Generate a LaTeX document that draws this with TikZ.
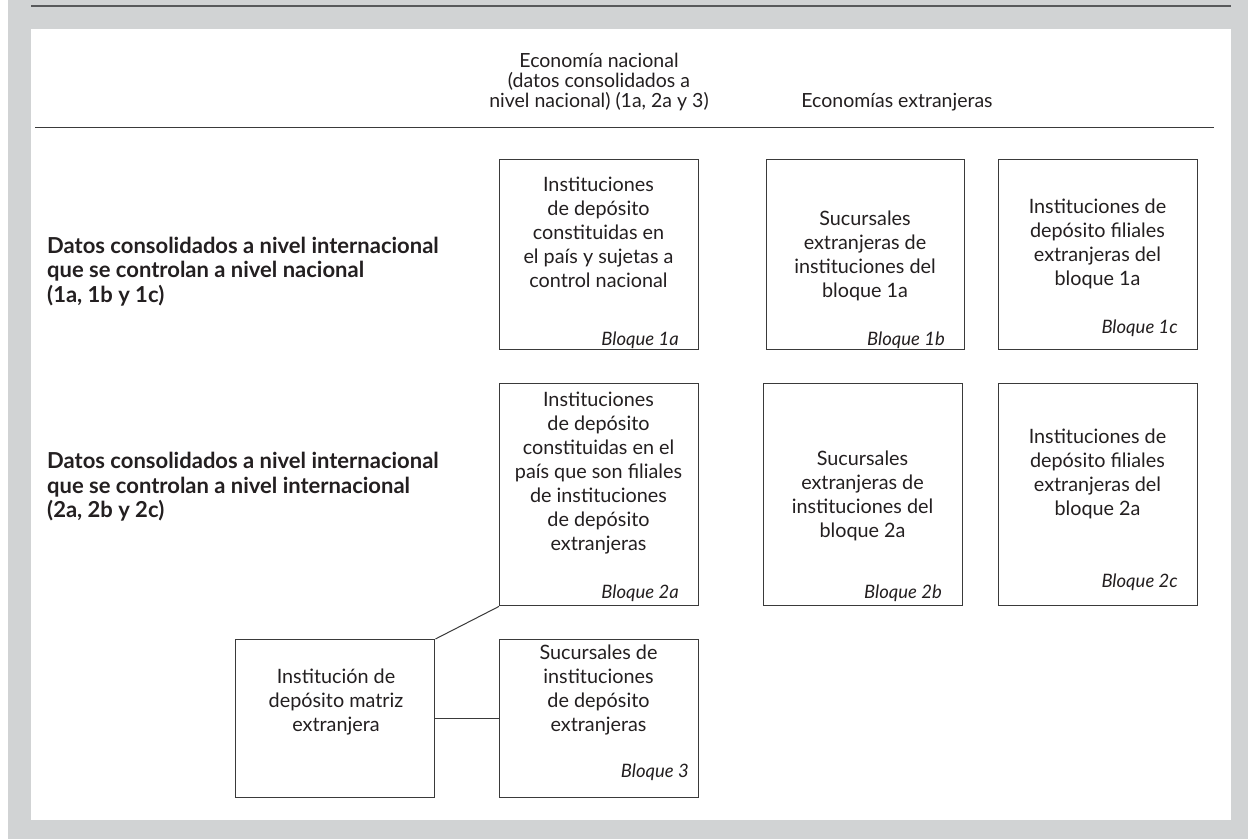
\documentclass[tikz,border=0pt]{standalone}
\usepackage{fontspec}
\setmainfont{Lato}
\definecolor{bggray}{HTML}{D1D3D4}
\definecolor{topline}{HTML}{58595B}
\definecolor{boxc}{HTML}{3A3A3A}
\definecolor{ink}{HTML}{231F20}
\begin{document}
\begin{tikzpicture}[x=1pt,y=-1pt,
  box/.style={draw=boxc, line width=1.4pt, anchor=north west, inner sep=0pt},
  txt/.style={align=center, font=\fontsize{19.8}{24}\selectfont, text=ink, inner sep=0pt},
  blq/.style={anchor=east, font=\fontsize{18.5}{24}\selectfont\itshape, inner sep=0pt, text=ink},
  lbl/.style={align=left, anchor=west, font=\fontsize{22}{24.5}\selectfont\bfseries, inner sep=0pt, text=ink},
  hdr/.style={align=center, font=\fontsize{19.5}{20}\selectfont, inner sep=0pt, text=ink},
  conn/.style={draw=boxc, line width=1pt}]

\useasboundingbox (0,0) rectangle (1248,839);
\fill[white] (0,0) rectangle (1248,839);
\fill[bggray] (8,0) rectangle (1248,839);
\fill[white] (31,29) rectangle (1231,820);
\draw[topline, line width=2pt] (31,6) -- (1231,6);
\draw[boxc, line width=1pt] (35,127) -- (1214,127);

% headers
\node[hdr] (h1) at (599,82) {Economía nacional\\(datos consolidados a\\nivel nacional) (1a, 2a y 3)};
\node[hdr] (h2) at (897,102) {Economías extranjeras};

% row labels
\node[lbl] (l1) at (47,271.5) {Datos consolidados a nivel internacional\\que se controlan a nivel nacional\\(1a, 1b y 1c)};
\node[lbl] (l2) at (47,487) {Datos consolidados a nivel internacional\\que se controlan a nivel internacional\\(2a, 2b y 2c)};

% row 1
\node[box, minimum width=199pt, minimum height=190pt] (b1a) at (499,159) {};
\node[box, minimum width=198pt, minimum height=190pt] (b1b) at (766,159) {};
\node[box, minimum width=199pt, minimum height=190pt] (b1c) at (998,159) {};
% row 2
\node[box, minimum width=199pt, minimum height=222pt] (b2a) at (499,383) {};
\node[box, minimum width=199pt, minimum height=222pt] (b2b) at (763,383) {};
\node[box, minimum width=199pt, minimum height=222pt] (b2c) at (998,383) {};
% row 3
\node[box, minimum width=199pt, minimum height=158pt] (bm) at (235,639) {};
\node[box, minimum width=199pt, minimum height=158pt] (b3) at (499,639) {};

% box texts
\node[txt] (t1a) at (598.5,232.5) {Instituciones\\de depósito\\constituidas en\\el país y sujetas a\\control nacional};
\node[txt] (t1b) at (865,256) {Sucursales\\extranjeras de\\instituciones del\\bloque 1a};
\node[txt] (t1c) at (1097.5,244) {Instituciones de\\depósito filiales\\extranjeras del\\bloque 1a};
\node[txt] (t2a) at (598.5,473.5) {Instituciones\\de depósito\\constituidas en el\\país que son filiales\\de instituciones\\de depósito\\extranjeras};
\node[txt] (t2b) at (862.5,496) {Sucursales\\extranjeras de\\instituciones del\\bloque 2a};
\node[txt] (t2c) at (1097.5,474) {Instituciones de\\depósito filiales\\extranjeras del\\bloque 2a};
\node[txt] (t3) at (598.5,690) {Sucursales de\\instituciones\\de depósito\\extranjeras};
\node[txt] (tm) at (336,701.5) {Institución de\\depósito matriz\\extranjera};

% bloque labels
\node[blq] (k1a) at (679,340) {Bloque 1a};
\node[blq] (k1b) at (945,340) {Bloque 1b};
\node[blq] (k1c) at (1178,328) {Bloque 1c};
\node[blq] (k2a) at (679,593) {Bloque 2a};
\node[blq] (k2b) at (942,593) {Bloque 2b};
\node[blq] (k2c) at (1178,582) {Bloque 2c};
\node[blq] (k3) at (689,772) {Bloque 3};

% connectors
\draw[conn] (bm.north east) -- (b2a.south west);
\draw[conn] (bm.east) -- (b3.west);
\end{tikzpicture}
\end{document}
